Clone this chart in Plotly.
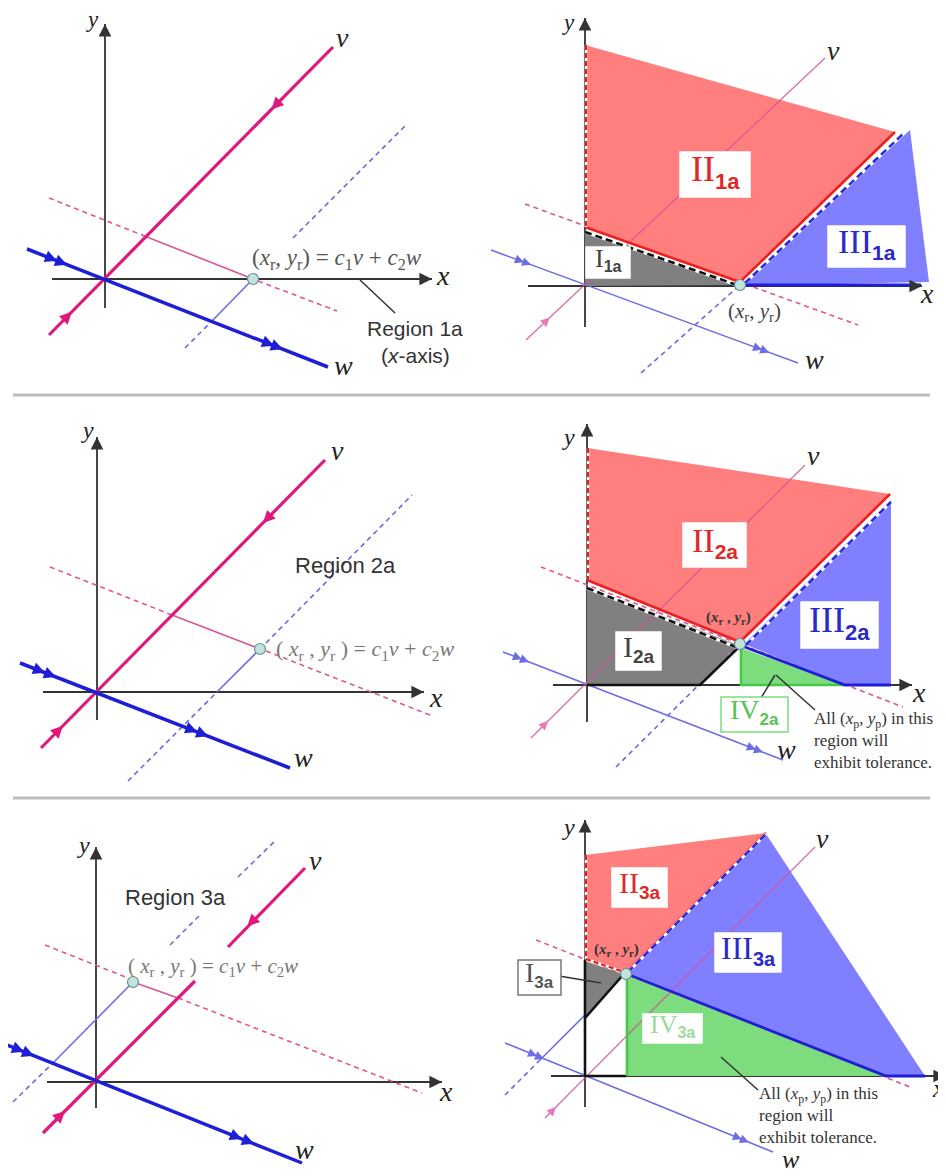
import math
import plotly.graph_objects as go

W, H = 946, 1176
PAGE_OFFSET = 8  # default body margin of the page
SERIF = "Liberation Serif"
SANS = "Liberation Sans"

# ---------------- colours ----------------
MAG = "#E0187C"
BLU = "#1E1ED6"
PINK_D = "#E0568F"
BLUE_D = "#6A6AE2"
PINK_T = "#D8559A"
BLUE_T = "#6E6EE4"
AX = "#333333"
RED_F = "#FF7F7F"
BLUE_F = "#7F7FFF"
GREY_F = "#808080"
GREEN_F = "#7DDC7D"

# ---------------- separators ----------------
SEPARATORS = [[(13, 395), (930, 395)], [(13, 798), (930, 798)]]

# ================= Panel 1 left =================
P1L_XAXIS = [(52, 279), (432, 279)]
P1L_YAXIS = [(105, 308), (105, 24)]
P1L_V = [[(49, 335), (333, 47)]]
P1L_W = [(27, 249), (328, 367)]
P1L_R = (253, 279)
P1L_PINK_DASH = [[(49, 198), (147, 237)], [(258, 281), (337, 311)]]
P1L_PINK_SOLID = [[(147, 237), (253, 279)]]
P1L_BLUE_DASH = [[(185, 348), (212, 321)], [(293, 238), (407, 124)]]
P1L_BLUE_SOLID = [[(212, 321), (253, 279)]]
P1L_V_ARROWS = [((272, 110), -1), ((72, 312), 1)]
P1L_W_ARROWS = [(57, 261), (67, 265), (274, 346), (283, 349)]
P1L_LEADERS = [[(360, 280), (395, 313)]]

# ================= Panel 1 right =================
P1R_XAXIS = [(528, 286), (922, 286)]
P1R_YAXIS = [(585, 327), (585, 18)]
P1R_V = [(526, 340), (825, 58)]
P1R_W = [(491, 250), (798, 363)]
P1R_R = (740, 285)
P1R_PINK_DASH = [[(525, 204), (858, 325)]]
P1R_BLUE_DASH = [[(641, 373), (740, 285)]]
P1R_II = [(585, 45), (895, 132), (740, 283), (585, 228)]
P1R_I = [(585, 231), (740, 285), (585, 286)]
P1R_III = [(744, 284), (910, 130), (929, 282), (744, 286)]
P1R_RED_EDGE = [[(585, 227), (740, 282), (895, 132)]]
P1R_RED_DASH_EDGE = [[(586, 45), (586, 227)]]
P1R_BLACK_DASH_EDGE = [[(585, 232), (737, 285)]]
P1R_BLUE_DASH_EDGE = [[(745, 283), (903, 134)]]
P1R_BLUE_EDGE = [[(742, 285), (921, 285)]]
P1R_V_ARROWS = [((550, 318), 1)]
P1R_W_ARROWS = [(524, 262), (531, 265), (762, 350), (769, 353)]

# ================= Panel 2 left =================
P2L_XAXIS = [(43, 692), (424, 692)]
P2L_YAXIS = [(97, 720), (97, 437)]
P2L_V = [[(41, 748), (325, 460)]]
P2L_W = [(20, 663), (290, 768)]
P2L_R = (260, 649)
P2L_PINK_DASH = [[(50, 567), (172, 615)], [(266, 651), (430, 715)]]
P2L_PINK_SOLID = [[(172, 615), (260, 649)]]
P2L_BLUE_DASH = [[(128, 781), (217, 692)], [(266, 643), (412, 495)]]
P2L_BLUE_SOLID = [[(217, 692), (260, 649)]]
P2L_V_ARROWS = [((263, 523), -1), ((63, 726), 1)]
P2L_W_ARROWS = [(45, 673), (56, 677), (197, 733), (208, 737)]

# ================= Panel 2 right =================
P2R_XAXIS = [(553, 685), (912, 685)]
P2R_YAXIS = [(587, 722), (587, 424)]
P2R_V = [(531, 738), (805, 465)]
P2R_W = [(503, 652), (783, 760)]
P2R_R = (740, 644)
P2R_PINK_DASH = [[(541, 567), (903, 707)]]
P2R_BLUE_DASH = [[(616, 767), (740, 644)]]
P2R_II = [(587, 448), (890, 494), (740, 642), (587, 581)]
P2R_I = [(587, 587), (738, 645), (700, 685), (587, 685)]
P2R_IV = [(741, 648), (845, 685), (741, 685)]
P2R_III = [(744, 644), (891, 500), (891, 685), (845, 685)]
P2R_RED_EDGE = [[(587, 580), (740, 642), (890, 494)]]
P2R_RED_DASH_EDGE = [[(588, 448), (588, 580)]]
P2R_BLACK_DASH_EDGE = [[(587, 588), (736, 647)]]
P2R_BLUE_DASH_EDGE = [[(746, 645), (891, 502)]]
P2R_BLACK_EDGE = [[(587, 685), (700, 685), (740, 646)]]
P2R_GREEN_EDGE = [[(741, 648), (741, 685), (845, 685)]]
P2R_BLUE_EDGE = [[(742, 646), (845, 685), (891, 685)]]
P2R_V_ARROWS = [((548, 721), 1)]
P2R_W_ARROWS = [(522, 659), (529, 662), (756, 749), (763, 752)]
P2R_LEADERS = [[(761, 698), (775, 675)], [(776, 675), (815, 710)]]

# ================= Panel 3 left =================
P3L_XAXIS = [(47, 1082), (442, 1082)]
P3L_YAXIS = [(96, 1108), (96, 847)]
P3L_V = [[(43, 1133), (195, 981)], [(228, 947), (305, 868)]]
P3L_W = [(7, 1045), (302, 1163)]
P3L_R = (133, 982)
P3L_PINK_DASH = [[(45, 945), (128, 978)], [(178, 998), (422, 1093)]]
P3L_PINK_SOLID = [[(133, 982), (178, 998)]]
P3L_BLUE_DASH = [[(13, 1102), (53, 1063)], [(170, 945), (200, 915)], [(238, 877), (275, 841)]]
P3L_BLUE_SOLID = [[(53, 1063), (133, 982)]]
P3L_V_ARROWS = [((248, 927), -1), ((65, 1111), 1)]
P3L_W_ARROWS = [(24, 1052), (34, 1056), (242, 1139), (254, 1144)]

# ================= Panel 3 right =================
P3R_XAXIS = [(551, 1076), (946, 1076)]
P3R_YAXIS = [(585, 1107), (585, 820)]
P3R_V = [(545, 1118), (815, 847)]
P3R_W = [(505, 1043), (773, 1152)]
P3R_R = (626, 974)
P3R_PINK_DASH = [[(536, 940), (910, 1087)]]
P3R_BLUE_DASH = [[(505, 1095), (540, 1060)]]
P3R_BLUE_SOLID = [[(540, 1060), (585, 1015)]]
P3R_II = [(585, 855), (766, 833), (626, 973), (585, 959)]
P3R_III = [(628, 973), (766, 834), (925, 1076), (886, 1076)]
P3R_IV = [(626, 975), (886, 1076), (626, 1076)]
P3R_I = [(585, 961), (623, 974), (585, 1018)]
P3R_RED_EDGE = [[(626, 973), (766, 833)]]
P3R_RED_DASH_EDGE = [[(586, 855), (586, 959)], [(586, 959), (624, 972)]]
P3R_BLUE_DASH_EDGE = [[(628, 972), (766, 834)]]
P3R_BLACK_EDGE = [[(585, 960), (585, 1076), (626, 1076)], [(585, 1018), (623, 975)]]
P3R_GREEN_EDGE = [[(627, 976), (627, 1076)]]
P3R_BLUE_EDGE = [[(627, 974), (886, 1076), (925, 1076)]]
P3R_V_ARROWS = [((556, 1107), 1)]
P3R_W_ARROWS = [(537, 1056), (544, 1059), (742, 1139), (749, 1142)]
P3R_LEADERS = [[(553, 975), (601, 983)], [(721, 1057), (758, 1090)]]

# ---------------- label boxes: (x0, y0, x1, y1, main, sub, colour, size, border) ----------------
LABEL_BOXES = [
    (680, 152, 750, 197, "II", "1a", "#E02828", 36, "white"),
    (828, 226, 905, 267, "III", "1a", "#2A2AC8", 34, "white"),
    (586, 247, 630, 278, "I", "1a", "#444444", 26, "white"),
    (683, 523, 746, 567, "II", "2a", "#E02828", 34, "white"),
    (801, 602, 878, 648, "III", "2a", "#2A2AC8", 36, "white"),
    (616, 632, 661, 670, "I", "2a", "#444444", 30, "white"),
    (721, 697, 788, 732, "IV", "2a", "#55C455", 28, "#7DDC7D"),
    (612, 868, 667, 907, "II", "3a", "#E02828", 30, "white"),
    (715, 933, 781, 972, "III", "3a", "#2A2AC8", 32, "white"),
    (643, 1014, 702, 1043, "IV", "3a", "#9ADB9A", 26, "white"),
    (518, 960, 561, 995, "I", "3a", "#555555", 28, "#777777"),
]

# ---------------- plain texts: (x, y, text, size, family, colour, xanchor) ----------------
FORMULA = "(<i>x</i><sub>r</sub>, <i>y</i><sub>r</sub>) = <i>c</i><sub>1</sub><i>v</i> + <i>c</i><sub>2</sub><i>w</i>"
FORMULA_SP = "( <i>x</i><sub>r</sub> , <i>y</i><sub>r</sub> ) = <i>c</i><sub>1</sub><i>v</i> + <i>c</i><sub>2</sub><i>w</i>"
RPT = "(<i>x</i><sub>r</sub>, <i>y</i><sub>r</sub>)"
RPT_B = "<b>(<i>x</i><sub>r</sub> , <i>y</i><sub>r</sub>)</b>"
NOTE = "All (<i>x</i><sub>p</sub>, <i>y</i><sub>p</sub>) in this<br>region will<br>exhibit tolerance."
TEXTS = [
    # panel 1 left
    (92, 19, "<i>y</i>", 23, SERIF, "#222", "center"),
    (342, 37, "<i>v</i>", 28, SERIF, "#222", "center"),
    (443, 275, "<i>x</i>", 28, SERIF, "#222", "center"),
    (343, 365, "<i>w</i>", 28, SERIF, "#222", "center"),
    (337, 259, FORMULA, 23, SERIF, "#555", "center"),
    (415, 328, "Region 1a", 21, SANS, "#333", "center"),
    (415, 355, "(<i>x</i>-axis)", 21, SANS, "#333", "center"),
    # panel 1 right
    (568, 22, "<i>y</i>", 23, SERIF, "#222", "center"),
    (833, 50, "<i>v</i>", 28, SERIF, "#222", "center"),
    (927, 293, "<i>x</i>", 28, SERIF, "#222", "center"),
    (814, 359, "<i>w</i>", 28, SERIF, "#222", "center"),
    (754, 312, RPT, 21, SERIF, "#444", "center"),
    # panel 2 left
    (87, 430, "<i>y</i>", 24, SERIF, "#222", "center"),
    (337, 450, "<i>v</i>", 28, SERIF, "#222", "center"),
    (436, 697, "<i>x</i>", 28, SERIF, "#222", "center"),
    (303, 757, "<i>w</i>", 28, SERIF, "#222", "center"),
    (345, 565, "Region 2a", 22, SANS, "#333", "center"),
    (274, 650, FORMULA_SP, 22, SERIF, "#777", "left"),
    # panel 2 right
    (568, 437, "<i>y</i>", 24, SERIF, "#222", "center"),
    (813, 455, "<i>v</i>", 28, SERIF, "#222", "center"),
    (919, 692, "<i>x</i>", 28, SERIF, "#222", "center"),
    (786, 749, "<i>w</i>", 28, SERIF, "#222", "center"),
    (728, 618, RPT_B, 15, SERIF, "#333", "center"),
    # panel 3 left
    (83, 845, "<i>y</i>", 24, SERIF, "#222", "center"),
    (315, 860, "<i>v</i>", 28, SERIF, "#222", "center"),
    (446, 1091, "<i>x</i>", 28, SERIF, "#222", "center"),
    (304, 1149, "<i>w</i>", 28, SERIF, "#222", "center"),
    (175, 897, "Region 3a", 22, SANS, "#333", "center"),
    (126, 967, FORMULA_SP, 21, SERIF, "#777", "left"),
    # panel 3 right
    (568, 827, "<i>y</i>", 24, SERIF, "#222", "center"),
    (822, 838, "<i>v</i>", 28, SERIF, "#222", "center"),
    (938, 1088, "<i>x</i>", 26, SERIF, "#222", "center"),
    (791, 1159, "<i>w</i>", 26, SERIF, "#222", "center"),
    (616, 950, RPT_B, 15, SERIF, "#333", "center"),
]
NOTES = [(812, 707), (757, 1082)]

fig = go.Figure()


def line(pts, color, width, dash="solid", opacity=1.0):
    fig.add_trace(go.Scatter(
        x=[p[0] for p in pts], y=[p[1] for p in pts], mode="lines",
        line=dict(color=color, width=width, dash=dash), opacity=opacity,
        hoverinfo="skip", showlegend=False))


def lines(groups, color, width, dash="solid", opacity=1.0):
    for g in groups:
        line(g, color, width, dash, opacity)


def poly(pts, color):
    fig.add_trace(go.Scatter(
        x=[p[0] for p in pts] + [pts[0][0]], y=[p[1] for p in pts] + [pts[0][1]],
        mode="lines", fill="toself", fillcolor=color, line=dict(width=0, color=color),
        hoverinfo="skip", showlegend=False))


def head(tip, tail, color, width, size):
    fig.add_annotation(x=tip[0], y=tip[1], ax=tail[0], ay=tail[1], xref="x", yref="y",
                       axref="x", ayref="y", text="", showarrow=True, arrowhead=2,
                       arrowsize=size, arrowwidth=width, arrowcolor=color, standoff=0)


def on_line(seg, p, sign, color, width, size, back=6):
    (ax_, ay_), (bx, by) = seg
    dx, dy = bx - ax_, by - ay_
    L = math.hypot(dx, dy)
    ux, uy = dx / L, dy / L
    t = (p[0] - ax_) * ux + (p[1] - ay_) * uy
    px, py = ax_ + t * ux, ay_ + t * uy
    head((px, py), (px - sign * back * ux, py - sign * back * uy), color, width, size)


def axis(a):
    line(a, AX, 1.8)
    (x0, y0), (x1, y1) = a
    L = math.hypot(x1 - x0, y1 - y0)
    head((x1, y1), (x1 - 8 * (x1 - x0) / L, y1 - 8 * (y1 - y0) / L), AX, 1.8, 1.4)


def point(p):
    fig.add_trace(go.Scatter(x=[p[0]], y=[p[1]], mode="markers",
                             marker=dict(size=11, color="#BFE4DE", line=dict(color="#6F8C98", width=1.2)),
                             hoverinfo="skip", showlegend=False))


# separators
lines(SEPARATORS, "#BDBDBD", 3)

# ---- left panels ----
for (xa, ya, v, w, r, pdsh, psol, bdsh, bsol, varr, warr) in [
    (P1L_XAXIS, P1L_YAXIS, P1L_V, P1L_W, P1L_R, P1L_PINK_DASH, P1L_PINK_SOLID, P1L_BLUE_DASH, P1L_BLUE_SOLID, P1L_V_ARROWS, P1L_W_ARROWS),
    (P2L_XAXIS, P2L_YAXIS, P2L_V, P2L_W, P2L_R, P2L_PINK_DASH, P2L_PINK_SOLID, P2L_BLUE_DASH, P2L_BLUE_SOLID, P2L_V_ARROWS, P2L_W_ARROWS),
    (P3L_XAXIS, P3L_YAXIS, P3L_V, P3L_W, P3L_R, P3L_PINK_DASH, P3L_PINK_SOLID, P3L_BLUE_DASH, P3L_BLUE_SOLID, P3L_V_ARROWS, P3L_W_ARROWS),
]:
    axis(xa)
    axis(ya)
    lines(pdsh, PINK_D, 1.6, "5px,4px")
    lines(psol, PINK_T, 1.6)
    lines(bdsh, BLUE_D, 1.6, "5px,4px")
    lines(bsol, BLUE_T, 1.6)
    lines(v, MAG, 3.2)
    line(w, BLU, 3.5)
    for (p, s) in varr:
        seg = v[0] if len(v) == 1 else (v[0][0], v[1][1])
        on_line(seg, p, s, MAG, 2.2, 1.1)
    for p in warr:
        on_line(w, p, 1, BLU, 2.2, 1.1)
    point(r)

lines(P1L_LEADERS, "#333", 1.5)

# ---- right panels ----
RIGHT = [
    dict(xa=P1R_XAXIS, ya=P1R_YAXIS, v=P1R_V, w=P1R_W, r=P1R_R, pd=P1R_PINK_DASH, bd=P1R_BLUE_DASH,
         polys=[(P1R_II, RED_F), (P1R_I, GREY_F), (P1R_III, BLUE_F)],
         red=P1R_RED_EDGE, reddash=P1R_RED_DASH_EDGE, blackdash=P1R_BLACK_DASH_EDGE,
         bluedash=P1R_BLUE_DASH_EDGE, black=[], green=[], blue=P1R_BLUE_EDGE,
         varr=P1R_V_ARROWS, warr=P1R_W_ARROWS, bsol=[]),
    dict(xa=P2R_XAXIS, ya=P2R_YAXIS, v=P2R_V, w=P2R_W, r=P2R_R, pd=P2R_PINK_DASH, bd=P2R_BLUE_DASH,
         polys=[(P2R_II, RED_F), (P2R_I, GREY_F), (P2R_IV, GREEN_F), (P2R_III, BLUE_F)],
         red=P2R_RED_EDGE, reddash=P2R_RED_DASH_EDGE, blackdash=P2R_BLACK_DASH_EDGE,
         bluedash=P2R_BLUE_DASH_EDGE, black=P2R_BLACK_EDGE, green=P2R_GREEN_EDGE, blue=P2R_BLUE_EDGE,
         varr=P2R_V_ARROWS, warr=P2R_W_ARROWS, bsol=[]),
    dict(xa=P3R_XAXIS, ya=P3R_YAXIS, v=P3R_V, w=P3R_W, r=P3R_R, pd=P3R_PINK_DASH, bd=P3R_BLUE_DASH,
         polys=[(P3R_II, RED_F), (P3R_III, BLUE_F), (P3R_IV, GREEN_F), (P3R_I, GREY_F)],
         red=P3R_RED_EDGE, reddash=P3R_RED_DASH_EDGE, blackdash=[],
         bluedash=P3R_BLUE_DASH_EDGE, black=P3R_BLACK_EDGE, green=P3R_GREEN_EDGE, blue=P3R_BLUE_EDGE,
         varr=P3R_V_ARROWS, warr=P3R_W_ARROWS, bsol=P3R_BLUE_SOLID),
]

for d in RIGHT:
    axis(d["xa"])
    axis(d["ya"])
    lines(d["pd"], PINK_D, 1.6, "5px,4px")
    lines(d["bd"], BLUE_D, 1.6, "5px,4px")
    lines(d["bsol"], BLUE_T, 1.6)
    line(d["w"], BLUE_T, 1.6)
    for p in d["warr"]:
        on_line(d["w"], p, 1, BLUE_T, 1.8, 1.0)
    for pts, c in d["polys"]:
        poly(pts, c)
    line(d["v"], "#D2569A", 1.3, opacity=0.85)
    for (p, s) in d["varr"]:
        on_line(d["v"], p, s, "#E879B9", 1.8, 1.0)
    lines(d["black"], "#111", 2.6)
    lines(d["green"], "#45C845", 2.6)
    lines(d["blue"], "#1E1ED6", 2.8)
    lines(d["red"], "#F01E1E", 2.6)
    lines(d["reddash"], "white", 2.6)
    lines(d["reddash"], "#E02020", 2.2, "5px,3px")
    lines(d["blackdash"], "white", 3)
    lines(d["blackdash"], "#111", 2.6, "7px,4px")
    lines(d["bluedash"], "white", 3)
    lines(d["bluedash"], "#2A2AE0", 2.6, "7px,4px")
    point(d["r"])

lines(P2R_LEADERS, "#333", 1.5)
lines(P3R_LEADERS, "#333", 1.5)

# label boxes
for (x0, y0, x1, y1, main, sub, col, size, border) in LABEL_BOXES:
    fig.add_shape(type="rect", x0=x0, y0=y0, x1=x1, y1=y1, xref="x", yref="y",
                  fillcolor="white", line=dict(color=border, width=1.5), layer="above")
    sub_size = int(round(size * 0.62))
    txt = (f"{main}<sub><span style='font-family:{SANS};font-weight:bold;font-size:{sub_size}px'>"
           f"{sub}</span></sub>")
    fig.add_annotation(x=(x0 + x1) / 2, y=(y0 + y1) / 2 - 3, text=txt, showarrow=False,
                       font=dict(family=SERIF, size=size, color=col),
                       xanchor="center", yanchor="middle", xref="x", yref="y")

# texts
for (x, y, t, s, fam, col, anc) in TEXTS:
    fig.add_annotation(x=x, y=y, text=t, showarrow=False, font=dict(family=fam, size=s, color=col),
                       xanchor=anc, yanchor="middle", xref="x", yref="y")

for (x, y) in NOTES:
    fig.add_annotation(x=x, y=y, text=NOTE, showarrow=False, align="left",
                       font=dict(family=SERIF, size=17, color="#333"),
                       xanchor="left", yanchor="top", xref="x", yref="y")

# the page places the figure 8px from the top-left corner; map data units to page pixels
fig.update_layout(
    width=W - PAGE_OFFSET, height=H - PAGE_OFFSET, margin=dict(l=0, r=0, t=0, b=0),
    paper_bgcolor="white", plot_bgcolor="white",
    xaxis=dict(range=[PAGE_OFFSET, W], visible=False, fixedrange=True),
    yaxis=dict(range=[H, PAGE_OFFSET], visible=False, fixedrange=True),
    showlegend=False,
)
fig.write_html("out.html")
